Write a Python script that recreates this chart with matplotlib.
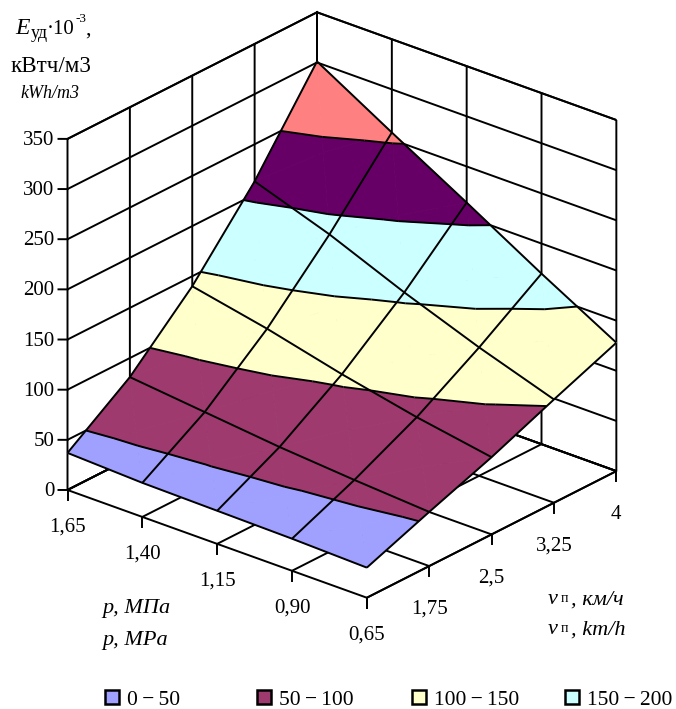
import numpy as np
import matplotlib
matplotlib.use('Agg')
import matplotlib.pyplot as plt
from matplotlib.patches import Patch
from mpl_toolkits.mplot3d import proj3d
from mpl_toolkits.mplot3d.art3d import Poly3DCollection, Line3DCollection

# speed and pressure categories
v_vals = [1.0, 1.75, 2.5, 3.25, 4.0]
p_vals = [0.65, 0.90, 1.15, 1.40, 1.65]
v_labels = ['', '1,75', '2,5', '3,25', '4']
p_labels = ['0,65', '0,90', '1,15', '1,40', '1,65']
z_ticks = [0, 50, 100, 150, 200, 250, 300, 350]

# energy values, one row per speed, columns follow p_vals
e_v100 = [30, 32, 33, 34, 37]
e_v175 = [54, 59, 65, 73, 81]
e_v250 = [77, 90, 106, 124.5, 140]
e_v325 = [103, 128, 156, 187, 213]
e_v400 = [128, 170, 214, 257, 301]

levels = [0, 50, 100, 150, 200, 250, 300, 350]
band_colors = ['#A0A0FF', '#9E3A6E', '#FFFFCC', '#CCFFFF', '#660066', '#FF8080', '#FF8080']
legend_labels = ['0\u2009\u2212\u200950', '50\u2009\u2212\u2009100', '100\u2009\u2212\u2009150', '150\u2009\u2212\u2009200']

W, H = 676, 709
LW = 1.4
plt.rcParams['font.family'] = ['Liberation Serif', 'DejaVu Serif']
plt.rcParams['grid.color'] = 'black'
plt.rcParams['grid.linewidth'] = LW
plt.rcParams['axes3d.grid'] = True


def clip(poly, lo, hi):
    # keep the part of a polygon between two heights
    for sign, lim in ((1, lo), (-1, hi)):
        out = []
        for k in range(len(poly)):
            a, b = np.array(poly[k]), np.array(poly[(k + 1) % len(poly)])
            da, db = sign * (a[2] - lim), sign * (b[2] - lim)
            if da >= 0:
                out.append(a)
            if da * db < 0:
                out.append(a + (b - a) * da / (da - db))
        poly = out
        if not poly:
            break
    return poly


def crossing(tri, lev):
    pts = []
    for k in range(3):
        a, b = np.array(tri[k]), np.array(tri[(k + 1) % 3])
        if (a[2] - lev) * (b[2] - lev) < 0:
            pts.append(a + (b - a) * (lev - a[2]) / (b[2] - a[2]))
    return pts if len(pts) == 2 else None


E = np.array([e_v100, e_v175, e_v250, e_v325, e_v400])
V, P = np.meshgrid(v_vals, p_vals, indexing='ij')

tris = []
for i in range(4):
    for j in range(4):
        c = [(V[a, b], P[a, b], E[a, b]) for a, b in ((i, j), (i + 1, j), (i + 1, j + 1), (i, j + 1))]
        mid = tuple(np.mean(c, axis=0))
        for k in range(4):
            tris.append([c[k], c[(k + 1) % 4], mid])

fig = plt.figure(figsize=(W / 100, H / 100), dpi=100)
ax = fig.add_axes([0, 0, 700 / W, 700 / H], projection='3d', computed_zorder=False)
ax.set_proj_type('ortho')
ax.view_init(elev=25.3, azim=-139.9)
ax.set_xlim(1, 4)
ax.set_ylim(0.65, 1.65)
ax.set_zlim(0, 350)
ax.set_box_aspect((388, 392, 389), zoom=654.1 / 700)
ax.set_xticks(v_vals)
ax.set_yticks(p_vals)
ax.set_zticks(z_ticks)
ax.set_xticklabels([])
ax.set_yticklabels([])
ax.set_zticklabels([])
ax.patch.set_alpha(0)

for axis in (ax.xaxis, ax.yaxis, ax.zaxis):
    axis.set_pane_color('white')
    axis.pane.set_edgecolor('black')
    axis.pane.set_linewidth(LW)
    axis.line.set_color('none')
    axis.set_tick_params(color='none', length=0)

# shift the axes so the box sits where it does in the original
proj = ax.get_proj()
x0, y0, _ = proj3d.proj_transform(1, 1.65, 0, proj)
fig.canvas.draw()
px = ax.transData.transform((x0, y0))
pos = ax.get_position()
ax.set_position([pos.x0 + (67.5 - px[0]) / W, pos.y0 + (H - 490 - px[1]) / H, pos.width, pos.height])

# colour bands of the surface
for n, col in enumerate(band_colors):
    polys = []
    for t in tris:
        q = clip(t, levels[n], levels[n + 1]) if n < len(levels) - 1 else []
        if len(q) >= 3:
            polys.append(q)
    if polys:
        ax.add_collection3d(Poly3DCollection(polys, facecolors=col, edgecolors=col,
                                             linewidths=0.6, shade=False, zorder=3))

# band borders
segs = []
for lev in levels[1:-1]:
    for t in tris:
        s = crossing(t, lev)
        if s:
            segs.append(s)
ax.add_collection3d(Line3DCollection(segs, colors='black', linewidths=LW, zorder=4))

# mesh of the surface
mesh = []
for i in range(5):
    mesh.append(list(zip(V[i], P[i], E[i])))
    mesh.append(list(zip(V[:, i], P[:, i], E[:, i])))
ax.add_collection3d(Line3DCollection(mesh, colors='black', linewidths=LW, zorder=5))


def label3d(x, y, z, s, **kw):
    # tick label at a box position, drawn as plain 2D text
    sx, sy, _ = proj3d.proj_transform(x, y, z, proj)
    ax.text2D(sx, sy, s, transform=ax.transData, va='center', fontsize=15, zorder=6, **kw)


# tick marks and tick labels (one z unit is close to one pixel, the box edge is 389 px)
tick_z = 10
for v, lab in zip(v_vals, v_labels):
    ax.plot([v, v], [0.65, 0.65], [0, -tick_z], color='black', lw=LW, zorder=2)
    if lab:
        label3d(v, 0.65, -43, lab, ha='center')
for p, lab in zip(p_vals, p_labels):
    ax.plot([1, 1], [p, p], [0, -tick_z], color='black', lw=LW, zorder=2)
    label3d(1, p, -37, lab, ha='center')

dx = 0.644 * 3 / 389
dy = -0.765 * 1 / 389
for z in z_ticks:
    ax.plot([1, 1 - 9 * dx], [1.65, 1.65 - 9 * dy], [z, z], color='black', lw=LW, zorder=2)
    label3d(1 - 13 * dx, 1.65 - 13 * dy, z - 1.5, str(z), ha='right')


def ftext(x, y, s, **kw):
    # text placed by pixel position in the figure
    kw.setdefault('va', 'center')
    fig.text(x / W, 1 - y / H, s, **kw)


# z axis title
ftext(15, 29, 'E', fontsize=17, style='italic')
ftext(31, 34, 'уд', fontsize=13)
ftext(47, 29, '·10', fontsize=15)
ftext(75, 19, '-3', fontsize=9.5)
ftext(85, 30, ',', fontsize=16)
ftext(11, 67, 'кВтч/м3', fontsize=16.6)
ftext(20, 93, 'kWh/m3', fontsize=13, style='italic')

# axis titles
ftext(102, 608, 'p, МПа', fontsize=16, style='italic')
ftext(102, 641, 'p, MPa', fontsize=16, style='italic')
ftext(548, 600, 'v', fontsize=16, style='italic')
ftext(561, 599, 'п', fontsize=10)
ftext(571, 600, ', км/ч', fontsize=16, style='italic')
ftext(548, 630, 'v', fontsize=16, style='italic')
ftext(561, 629, 'п', fontsize=10)
ftext(571, 630, ', km/h', fontsize=16, style='italic')

# legend, the entries are not evenly spaced in the original
leg_x = [105, 257, 412, 565]
for x, lab, col in zip(leg_x, legend_labels, band_colors):
    h = Patch(facecolor=col, edgecolor='black', linewidth=1.8, label=lab)
    fig.legend(handles=[h], loc='center left', bbox_to_anchor=(x / W, 1 - 700 / H), frameon=False,
               fontsize=15.5, handlelength=0.65, handleheight=0.65, handletextpad=0.35,
               borderpad=0, borderaxespad=0)

fig.savefig('out.png', dpi=100)
